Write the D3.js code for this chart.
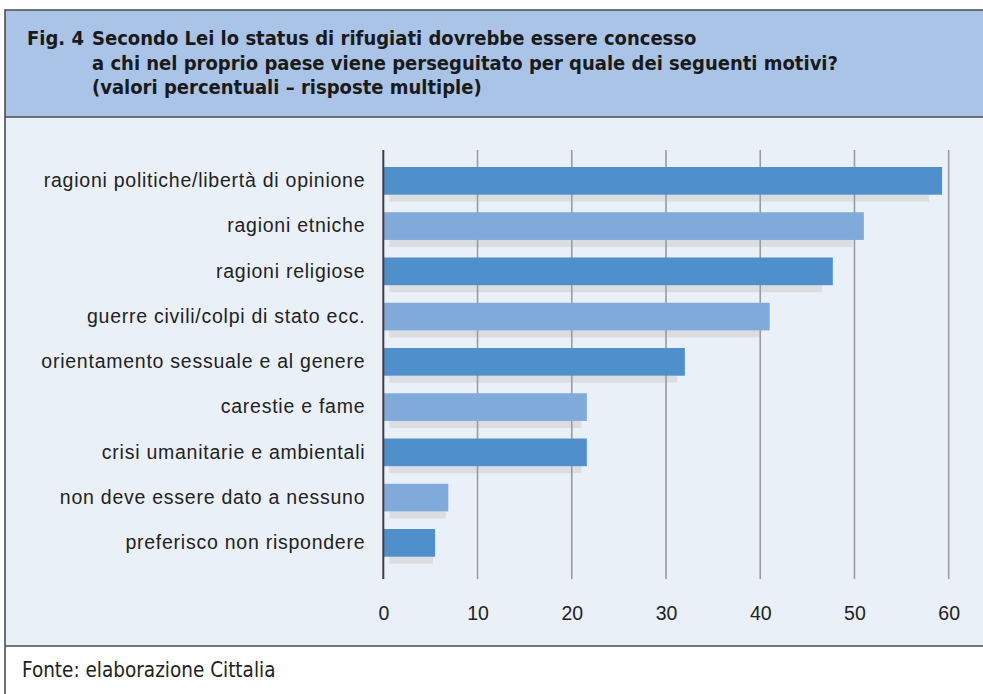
<!DOCTYPE html>
<html>
<head>
<meta charset="utf-8">
<script src="https://cdn.jsdelivr.net/npm/d3@7"></script>
<style>
  html, body { margin: 0; padding: 0; background: #ffffff; }
  svg { display: block; }
</style>
</head>
<body>
<svg id="chart" width="983" height="694"></svg>
<script>
// Motivi per cui concedere lo status di rifugiato (valori percentuali)
const categories = [
  "ragioni politiche/libertà di opinione",
  "ragioni etniche",
  "ragioni religiose",
  "guerre civili/colpi di stato ecc.",
  "orientamento sessuale e al genere",
  "carestie e fame",
  "crisi umanitarie e ambientali",
  "non deve essere dato a nessuno",
  "preferisco non rispondere"
];
const values = [59.3, 51.0, 47.7, 41.0, 32.0, 21.6, 21.6, 6.9, 5.5];
const xTicks = [0, 10, 20, 30, 40, 50, 60];
const titleLines = [
  "Secondo Lei lo status di rifugiati dovrebbe essere concesso",
  "a chi nel proprio paese viene perseguitato per quale dei seguenti motivi?",
  "(valori percentuali – risposte multiple)"
];
const figLabel = "Fig. 4";
const sourceText = "Fonte: elaborazione Cittalia";

const W = 983, H = 694;
const svg = d3.select("#chart");

const frameLeft = 5, frameTop = 10, headerBottom = 117, footerTop = 646;
const borderColor = "#4d4d4d";

// panels
svg.append("rect").attr("x", frameLeft).attr("y", frameTop)
  .attr("width", W - frameLeft).attr("height", headerBottom - frameTop)
  .attr("fill", "#a9c4e6");
svg.append("rect").attr("x", frameLeft).attr("y", headerBottom)
  .attr("width", W - frameLeft).attr("height", footerTop - headerBottom)
  .attr("fill", "#eaf0f8");

// frame lines
const frame = svg.append("g").attr("stroke", borderColor).attr("stroke-width", 1.6).attr("fill", "none");
frame.append("line").attr("x1", frameLeft).attr("x2", frameLeft).attr("y1", frameTop - 0.8).attr("y2", H);
frame.append("line").attr("x1", frameLeft).attr("x2", W).attr("y1", frameTop).attr("y2", frameTop);
frame.append("line").attr("x1", frameLeft).attr("x2", W).attr("y1", headerBottom).attr("y2", headerBottom);
frame.append("line").attr("x1", frameLeft).attr("x2", W).attr("y1", footerTop).attr("y2", footerTop);

// title
const titleFont = "'DejaVu Sans Condensed', 'Liberation Sans', Arial, sans-serif";
const title = svg.append("g").attr("font-family", titleFont).attr("font-weight", "bold")
  .attr("font-size", 20).attr("fill", "#1a1a1a");
title.append("text").attr("x", 27).attr("y", 45).text(figLabel);
title.selectAll("text.line").data(titleLines).join("text")
  .attr("class", "line")
  .attr("x", 92)
  .attr("y", (d, i) => 45 + i * 24.5)
  .text(d => d);

// scales
const x = d3.scaleLinear().domain([0, 60]).range([383.3, 948.7]);
const y = d3.scaleBand().domain(categories).range([150, 573.7])
  .paddingInner(0.388).paddingOuter(0.376);
const plotTop = 150, plotBottom = 579;

const gridTicks = xTicks.filter(d => d > 0);
const drawGrid = () => svg.append("g").selectAll("line").data(gridTicks).join("line")
  .attr("x1", d => x(d)).attr("x2", d => x(d))
  .attr("y1", plotTop).attr("y2", plotBottom)
  .attr("stroke", "#9a9ca2").attr("stroke-width", 1.6);

const rows = categories.map((c, i) => ({ cat: c, value: values[i], i }));

// perspective shadows under each bar
svg.append("g").selectAll("rect").data(rows).join("rect")
  .attr("x", x(0) + 6)
  .attr("y", d => y(d.cat) + y.bandwidth())
  .attr("width", d => Math.max(0, 0.978 * (x(d.value) - x(0)) - 7))
  .attr("height", 7)
  .attr("fill", "#dcdde0");

// gridlines sit above the shadows
drawGrid();

// bars
svg.append("g").selectAll("rect").data(rows).join("rect")
  .attr("x", x(0))
  .attr("y", d => y(d.cat))
  .attr("width", d => x(d.value) - x(0))
  .attr("height", y.bandwidth())
  .attr("fill", d => d.i % 2 === 0 ? "#4f8fcc" : "#80aad9");

// zero axis line
svg.append("line").attr("x1", x(0)).attr("x2", x(0))
  .attr("y1", plotTop).attr("y2", plotBottom)
  .attr("stroke", "#3f3f45").attr("stroke-width", 2);

const bodyFont = "'Liberation Sans', Arial, Helvetica, sans-serif";

// category labels
const yAxis = d3.axisLeft(y).tickSize(0).tickPadding(18);
const gy = svg.append("g").attr("transform", `translate(${x(0)},0)`).call(yAxis);
gy.select(".domain").remove();
gy.selectAll("text").attr("font-family", bodyFont).attr("font-size", 19.5)
  .attr("letter-spacing", 0.75).attr("fill", "#222");

// value axis labels
const xAxis = d3.axisBottom(x).tickValues(xTicks).tickSize(0).tickPadding(27).tickFormat(d3.format("d"));
const gx = svg.append("g").attr("transform", `translate(0,${plotBottom})`).call(xAxis);
gx.select(".domain").remove();
gx.selectAll("text").attr("font-family", bodyFont).attr("font-size", 19.5).attr("fill", "#222");

// source
svg.append("text").attr("x", 22).attr("y", 677)
  .attr("font-family", titleFont).attr("font-size", 20.5).attr("fill", "#222")
  .text(sourceText);
</script>
</body>
</html>
